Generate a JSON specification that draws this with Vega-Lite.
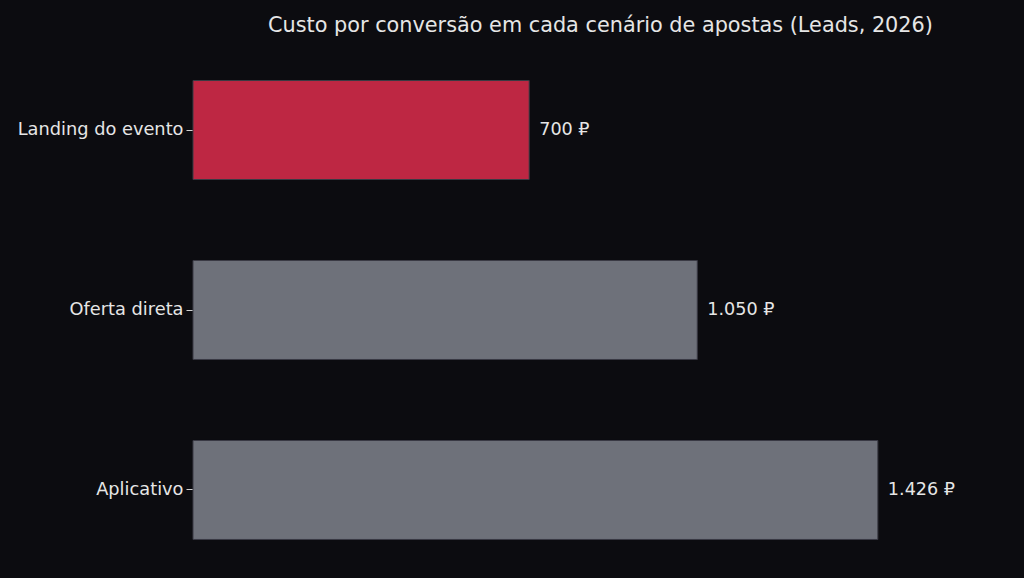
{
  "$schema": "https://vega.github.io/schema/vega-lite/v6.json",
  "autosize": "none",
  "width": 815,
  "height": 500,
  "padding": {"left": 193, "top": 60, "right": 16, "bottom": 18},
  "background": "#0c0c10",
  "title": {
    "text": "Custo por conversão em cada cenário de apostas (Leads, 2026)",
    "anchor": "middle",
    "font": "DejaVu Sans",
    "fontSize": 20.8,
    "fontWeight": "normal",
    "color": "#e6e6e6",
    "offset": 23
  },
  "config": {
    "view": {"stroke": null},
    "font": "DejaVu Sans"
  },
  "data": {
    "values": [
      {"cenario": "Landing do evento", "custo": 700, "rotulo": "700 ₽", "destaque": "sim"},
      {"cenario": "Oferta direta", "custo": 1050, "rotulo": "1.050 ₽", "destaque": "nao"},
      {"cenario": "Aplicativo", "custo": 1426, "rotulo": "1.426 ₽", "destaque": "nao"}
    ]
  },
  "encoding": {
    "y": {
      "field": "cenario",
      "type": "nominal",
      "sort": null,
      "title": null,
      "scale": {"paddingInner": 0.45, "paddingOuter": 0.114},
      "axis": {
        "domain": false,
        "ticks": true,
        "tickSize": 7,
        "tickColor": "#d0d0d0",
        "labelPadding": 3,
        "labelFont": "DejaVu Sans",
        "labelFontSize": 17.8,
        "labelColor": "#e6e6e6"
      }
    },
    "x": {
      "field": "custo",
      "type": "quantitative",
      "scale": {"domain": [0, 1697], "nice": false},
      "axis": null
    }
  },
  "layer": [
    {
      "mark": {"type": "bar", "stroke": "#3a3a44", "strokeWidth": 1},
      "encoding": {
        "color": {
          "field": "destaque",
          "type": "nominal",
          "scale": {"domain": ["sim", "nao"], "range": ["#be2743", "#6e717a"]},
          "legend": null
        }
      }
    },
    {
      "mark": {
        "type": "text",
        "align": "left",
        "baseline": "middle",
        "dx": 10,
        "font": "DejaVu Sans",
        "fontSize": 17.6,
        "color": "#e6e6e6"
      },
      "encoding": {"text": {"field": "rotulo"}}
    }
  ]
}
